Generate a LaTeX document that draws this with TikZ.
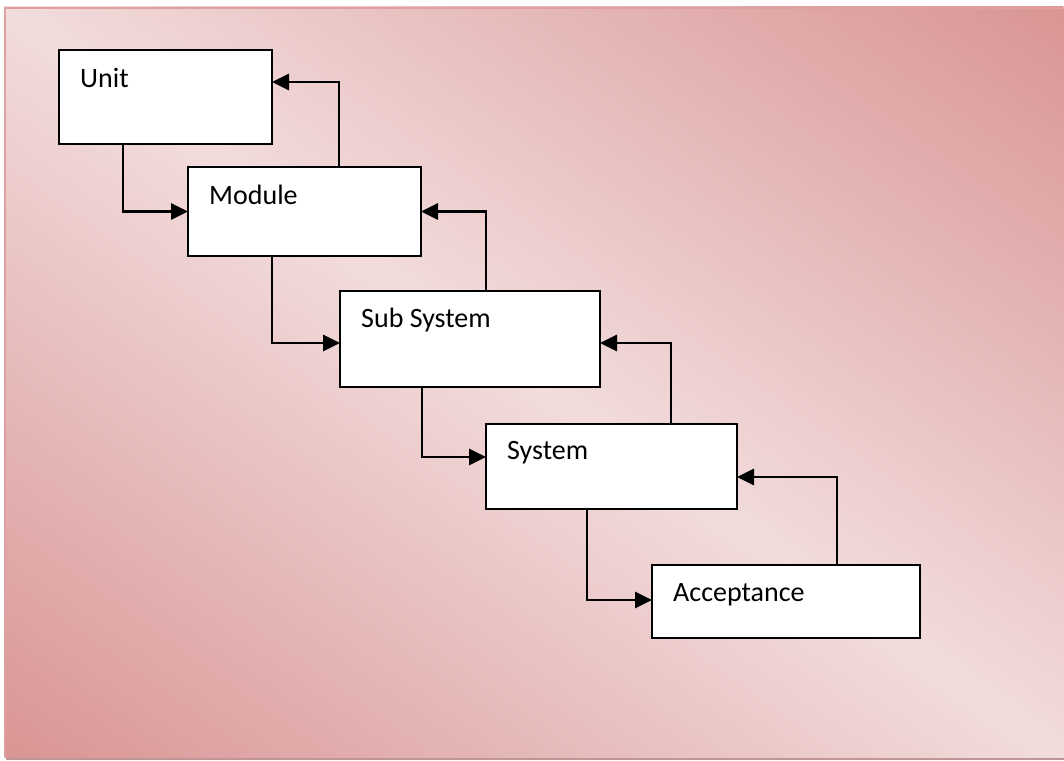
\documentclass[tikz,border=0pt]{standalone}
\usepackage{fontspec}
\setmainfont{Carlito}
\usetikzlibrary{arrows.meta}
\definecolor{roseDark}{RGB}{217,149,148}
\definecolor{roseLight}{RGB}{242,220,220}
\definecolor{roseEdge}{RGB}{224,160,160}
\definecolor{roseShadow}{RGB}{190,150,150}

\begin{document}
\begin{tikzpicture}[x=1pt,y=1pt,
  stagebox/.style={draw=black, line width=2.8pt, fill=white, rectangle,
    anchor=north west, inner sep=0pt, outer sep=0pt},
  stagelabel/.style={anchor=base west, inner sep=0pt,
    font=\fontsize{28}{33}\selectfont},
  flow/.style={draw=black, line width=2.8pt, -{Triangle[length=17pt,width=16pt]}}
]
\useasboundingbox (0,0) rectangle (1064,-760);

% drop shadow along the lower edge
\fill[roseShadow] (6,-754) rectangle (1064,-760);

% diagonal rose gradient background
\begin{scope}
  \clip (4,-7) rectangle (1064,-757);
  \begin{scope}[transform canvas={shift={(534,-382)}, rotate=-35.3}]
    \shade[bottom color=roseDark, top color=roseDark, middle color=roseLight]
      (-700,-612.3) rectangle (700,612.3);
  \end{scope}
\end{scope}
\draw[roseEdge, line width=2pt] (5,-757) -- (5,-8) -- (1064,-8);

% stages
\node[stagebox, minimum width=213pt, minimum height=94pt] (unit)   at (59,-50)  {};
\node[stagebox, minimum width=233pt, minimum height=89pt] (module) at (188,-167) {};
\node[stagebox, minimum width=260pt, minimum height=96pt] (subsys) at (340,-291) {};
\node[stagebox, minimum width=251pt, minimum height=85pt] (system) at (486,-424) {};
\node[stagebox, minimum width=268pt, minimum height=73pt] (accept) at (652,-565) {};

\node[stagelabel] (unitT)   at ([shift={(21,-37)}]unit.north west)   {Unit};
\node[stagelabel] (moduleT) at ([shift={(21,-37)}]module.north west) {Module};
\node[stagelabel] (subsysT) at ([shift={(21,-36)}]subsys.north west) {Sub System};
\node[stagelabel] (systemT) at ([shift={(21,-35)}]system.north west) {System};
\node[stagelabel] (acceptT) at ([shift={(21,-36)}]accept.north west) {Acceptance};

% forward connectors
\draw[flow] ([xshift=64]unit.south west)    |- (module.west);
\draw[flow] ([xshift=84]module.south west)  |- ([yshift=-52]subsys.north west);
\draw[flow] ([xshift=82]subsys.south west)  |- ([yshift=-33]system.north west);
\draw[flow] ([xshift=101]system.south west) |- ([yshift=-35]accept.north west);

% feedback connectors
\draw[flow] ([xshift=151]module.north west) |- ([yshift=-32]unit.north east);
\draw[flow] ([xshift=146]subsys.north west) |- (module.east);
\draw[flow] ([xshift=185]system.north west) |- ([yshift=-52]subsys.north east);
\draw[flow] ([xshift=185]accept.north west) |- ([yshift=-53]system.north east);
\end{tikzpicture}
\end{document}
